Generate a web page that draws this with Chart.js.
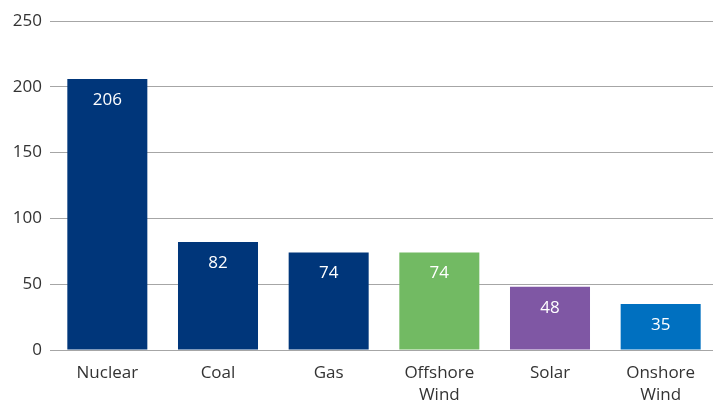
<!DOCTYPE html>
<html>
<head>
<meta charset="utf-8">
<script src="https://cdn.jsdelivr.net/npm/chart.js@4.4.1/dist/chart.umd.min.js"></script>
<style>
  html, body { margin: 0; padding: 0; background: #fff; overflow: hidden; }
  #wrap { width: 716px; height: 400px; }
</style>
</head>
<body>
<div id="wrap"><canvas id="costChart"></canvas></div>
<script>
const categories = ['Nuclear', 'Coal', 'Gas', ['Offshore', 'Wind'], 'Solar', ['Onshore', 'Wind']];
const values = [206, 82, 74, 74, 48, 35];
const barColors = ['#00367a', '#00367a', '#00367a', '#72ba63', '#7f57a4', '#0070c0'];
const yTicks = [0, 50, 100, 150, 200, 250];

// white value label near the top of each bar
const barValues = {
    id: 'barValues',
    afterDatasetsDraw(chart) {
        const ctx = chart.ctx;
        const meta = chart.getDatasetMeta(0);
        ctx.save();
        ctx.fillStyle = '#ffffff';
        ctx.font = '17px "Open Sans"';
        ctx.textAlign = 'center';
        ctx.textBaseline = 'middle';
        meta.data.forEach(function (bar, i) {
            ctx.fillText(values[i], bar.x, bar.y + 21);
        });
        ctx.restore();
    }
};

new Chart(document.getElementById('costChart'), {
    type: 'bar',
    data: {
        labels: categories,
        datasets: [{
            data: values,
            backgroundColor: barColors,
            barPercentage: 0.723,
            categoryPercentage: 1
        }]
    },
    options: {
        responsive: true,
        maintainAspectRatio: false,
        animation: false,
        layout: { padding: { top: 21, right: 0, bottom: 0, left: 0 } },
        plugins: {
            legend: { display: false },
            tooltip: { enabled: false }
        },
        scales: {
            x: {
                afterFit(axis) {
                    axis.height = 50;
                },
                grid: { display: false },
                border: { color: '#a6a6a6', width: 1 },
                ticks: {
                    color: '#333333',
                    font: { family: 'Open Sans', size: 17, lineHeight: 1.25 },
                    padding: 5,
                    maxRotation: 0,
                    autoSkip: false
                }
            },
            y: {
                min: 0,
                max: 250,
                afterBuildTicks(axis) {
                    axis.ticks = yTicks.map(v => ({ value: v }));
                },
                afterFit(axis) {
                    axis.width = 52;
                },
                grid: { color: '#a6a6a6', tickLength: 2, tickColor: '#a6a6a6' },
                border: { display: false },
                ticks: {
                    color: '#333333',
                    font: { family: 'Open Sans', size: 17 },
                    padding: 8
                }
            }
        }
    },
    plugins: [barValues]
});
</script>
</body>
</html>
